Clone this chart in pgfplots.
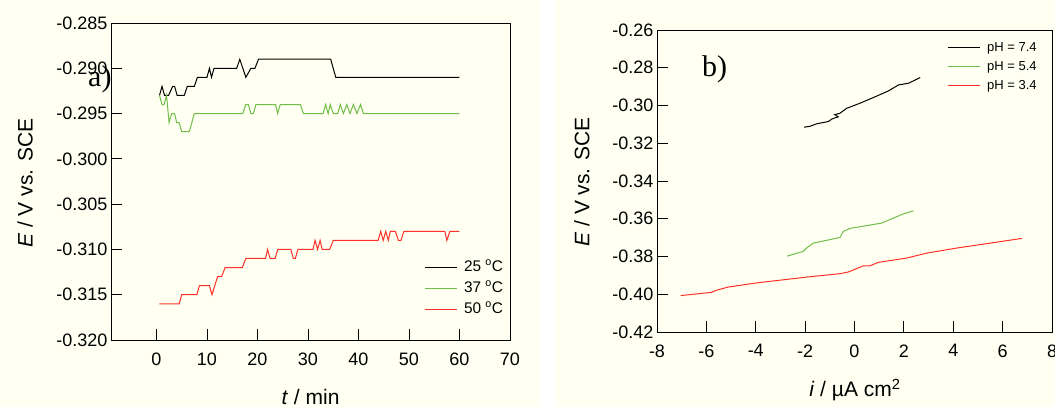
\documentclass[border=0pt]{standalone}
\usepackage{pgfplots}
\pgfplotsset{compat=1.18}
\usepackage{fontspec}
\setmainfont{Liberation Sans}
\newfontfamily\seriffont{Liberation Serif}
\definecolor{cream}{RGB}{255,255,242}
\definecolor{lgreen}{RGB}{112,190,72}
\definecolor{lred}{RGB}{255,48,40}
\pgfplotsset{
  every axis/.append style={
    scale only axis,
    axis line style={line width=0.9pt},
    tick style={line width=0.9pt, black},
    major tick length=11pt,
    tick align=inside,
    xtick pos=left, ytick pos=left,
    ticklabel style={font=\fontsize{18}{18}\selectfont},
    xticklabel style={yshift=-9pt},
    label style={font=\fontsize{21}{21}\selectfont},
    /pgf/number format/assume math mode=true,
    every axis plot/.append style={line width=1pt},
    legend image code/.code={\draw[#1] (0pt,0pt) -- (32pt,0pt);},
  }
}
\begin{document}
\begin{tikzpicture}
\path[use as bounding box] (0,0) rectangle (1055pt,-407pt);
\fill[cream] (0,0) rectangle (540pt,-407pt);
\fill[cream] (555pt,0) rectangle (1055pt,-407pt);

% ---------- panel a ----------
\begin{axis}[
  at={(111pt,-340pt)}, anchor=south west,
  width=399pt, height=317pt,
  xmin=-9, xmax=70, ymin=-0.320, ymax=-0.285,
  xtick={0,10,...,70},
  ytick={-0.320,-0.315,-0.310,-0.305,-0.300,-0.295,-0.290,-0.285},
  yticklabel style={/pgf/number format/.cd, fixed, fixed zerofill, precision=3},
  scaled y ticks=false,
  xlabel={\textit{t} / min},
  ylabel={\textit{E} / V vs. SCE},
  xlabel style={at={(axis description cs:0.5,-0.18)}, anchor=center},
  ylabel style={at={(axis description cs:-0.2155,0.495)}, anchor=center},
  legend style={draw=none, fill=none, font=\fontsize{15.4}{15.4}\selectfont,
    at={(axis description cs:0.784,0.2555)}, anchor=north west,
    row sep=5pt, inner sep=0pt,
    nodes={text height=11pt, text depth=3pt, inner sep=1pt},
    /tikz/every odd column/.append style={column sep=6pt}},
  legend cell align=left,
]
\addplot[black] coordinates {
(0.6,-0.293)(1.1,-0.292)(1.6,-0.293)(2.4,-0.293)(3.2,-0.292)(3.6,-0.292)(4.1,-0.293)(5.5,-0.293)(6.1,-0.292)(7.5,-0.292)(8.1,-0.291)(10.0,-0.291)(10.5,-0.290)(10.9,-0.291)(11.4,-0.290)(15.9,-0.290)(16.5,-0.289)(17.7,-0.291)(18.7,-0.290)(19.5,-0.290)(20.2,-0.289)(34.5,-0.289)(35.5,-0.291)(60,-0.291)
};
\addlegendentry{25 \textsuperscript{o}C}
\addplot[lgreen] coordinates {
(0.6,-0.293)(1.1,-0.294)(1.5,-0.294)(2.0,-0.293)(2.5,-0.296)(3.0,-0.295)(3.6,-0.295)(4.0,-0.296)(4.5,-0.296)(5.0,-0.297)(6.5,-0.297)(7.5,-0.295)(17.1,-0.295)(17.7,-0.294)(18.2,-0.294)(18.7,-0.295)(19.2,-0.295)(19.7,-0.294)(23.6,-0.294)(24.0,-0.295)(24.5,-0.294)(28.5,-0.294)(29.1,-0.295)(33.0,-0.295)(33.5,-0.294)(34.0,-0.295)(34.4,-0.294)(35.0,-0.295)(35.9,-0.295)(36.4,-0.294)(37.0,-0.295)(37.7,-0.294)(38.3,-0.295)(39.0,-0.294)(39.7,-0.295)(40.4,-0.294)(41.0,-0.295)(60,-0.295)
};
\addlegendentry{37 \textsuperscript{o}C}
\addplot[lred] coordinates {
(0.6,-0.316)(4.5,-0.316)(5.0,-0.315)(8.0,-0.315)(8.5,-0.314)(10.5,-0.314)(11.0,-0.315)(12.1,-0.313)(12.9,-0.313)(13.6,-0.312)(17.0,-0.312)(17.7,-0.311)(21.6,-0.311)(22.0,-0.310)(22.5,-0.311)(23.5,-0.311)(24.0,-0.310)(26.6,-0.310)(27.1,-0.311)(27.5,-0.311)(28.0,-0.310)(31.0,-0.310)(31.4,-0.309)(31.9,-0.310)(32.4,-0.309)(32.8,-0.310)(34.3,-0.310)(35.0,-0.309)(43.9,-0.309)(44.4,-0.308)(44.9,-0.309)(45.4,-0.308)(45.9,-0.309)(46.3,-0.308)(47.3,-0.308)(47.9,-0.309)(48.4,-0.309)(49.0,-0.308)(57.1,-0.308)(57.5,-0.309)(58.1,-0.308)(60,-0.308)
};
\addlegendentry{50 \textsuperscript{o}C}
\end{axis}
\node[font=\seriffont\fontsize{30}{30}\selectfont, anchor=base west, inner sep=0pt] at (88pt,-86pt) {a)};

% ---------- panel b ----------
\begin{axis}[
  at={(657pt,-332pt)}, anchor=south west,
  width=395pt, height=302pt,
  xmin=-8, xmax=8, ymin=-0.42, ymax=-0.26,
  xtick={-8,-6,...,8},
  ytick={-0.42,-0.40,-0.38,-0.36,-0.34,-0.32,-0.30,-0.28,-0.26},
  yticklabel style={/pgf/number format/.cd, fixed, fixed zerofill, precision=2},
  scaled y ticks=false,
  xlabel={\textit{i} / µA cm\textsuperscript{2}},
  ylabel={\textit{E} / V vs. SCE},
  xlabel style={at={(axis description cs:0.501,-0.192)}, anchor=center},
  ylabel style={at={(axis description cs:-0.19,0.497)}, anchor=center},
  legend style={draw=none, fill=none, font=\fontsize{13}{13}\selectfont,
    at={(axis description cs:0.734,0.967)}, anchor=north west,
    row sep=4pt, inner sep=0pt,
    nodes={text height=10pt, text depth=3pt, inner sep=1pt},
    /tikz/every odd column/.append style={column sep=6pt}},
  legend cell align=left,
]
\addplot[black] coordinates {
(-2.04,-0.3115)(-1.8,-0.3110)(-1.54,-0.3097)(-1.06,-0.3085)(-0.92,-0.3072)(-0.80,-0.3066)(-0.66,-0.3060)(-0.80,-0.3048)(-0.60,-0.3042)(-0.32,-0.3015)(0.22,-0.2988)(0.76,-0.2958)(1.37,-0.2923)(1.78,-0.2891)(2.19,-0.2882)(2.66,-0.2852)
};
\addlegendentry{pH = 7.4}
\addplot[lgreen] coordinates {
(-2.73,-0.3798)(-2.08,-0.3773)(-1.94,-0.3755)(-1.67,-0.3729)(-1.33,-0.3720)(-0.59,-0.3699)(-0.45,-0.3667)(-0.18,-0.3651)(1.10,-0.3623)(1.58,-0.3596)(1.98,-0.3574)(2.39,-0.3558)
};
\addlegendentry{pH = 5.4}
\addplot[lred] coordinates {
(-7.04,-0.4007)(-5.80,-0.3990)(-5.60,-0.3979)(-5.12,-0.3962)(-3.97,-0.3940)(-1.94,-0.3909)(-0.59,-0.3891)(-0.25,-0.3882)(0.22,-0.3857)(0.36,-0.3849)(0.63,-0.3849)(0.97,-0.3831)(2.12,-0.3808)(2.93,-0.3782)(4.15,-0.3755)(5.50,-0.3729)(6.79,-0.3704)
};
\addlegendentry{pH = 3.4}
\end{axis}
\node[font=\seriffont\fontsize{30}{30}\selectfont, anchor=base west, inner sep=0pt] at (702pt,-76pt) {b)};
\end{tikzpicture}
\end{document}
